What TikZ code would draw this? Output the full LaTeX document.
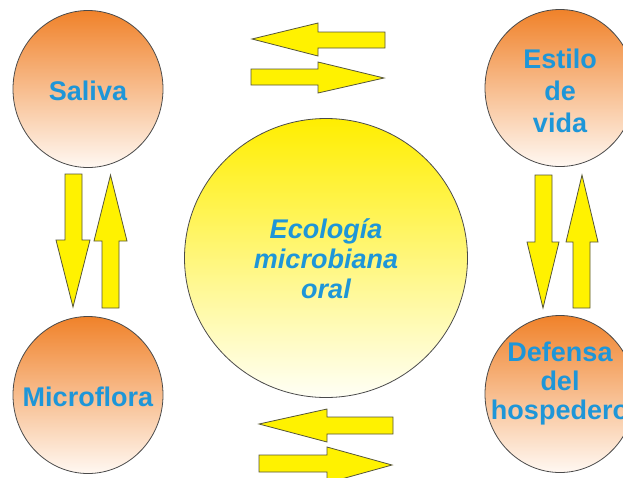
\documentclass[tikz,border=0pt]{standalone}
\usepackage{fontspec}
\setmainfont{Liberation Sans}
\usetikzlibrary{shapes.geometric,shadings}
\definecolor{orangetop}{HTML}{F0822A}
\definecolor{orangemid}{HTML}{F6A868}
\definecolor{orangebot}{HTML}{FFF8F2}
\definecolor{yelltop}{HTML}{FFEE00}
\definecolor{yellmid}{HTML}{FFF35A}
\definecolor{yellbot}{HTML}{FFFFF6}
\definecolor{arrowfill}{HTML}{FFF200}
\definecolor{arrowline}{HTML}{55553A}
\definecolor{txtblue}{HTML}{1E96D8}
\definecolor{rimline}{HTML}{4A4A4A}
\tikzset{
  bubble/.style={ellipse, draw=rimline, line width=0.8pt, minimum width=150pt, minimum height=157pt, inner sep=0pt, top color=orangetop, middle color=orangemid, bottom color=orangebot},
  bigbubble/.style={ellipse, draw=rimline, line width=0.8pt, minimum width=283pt, minimum height=279pt, inner sep=0pt, top color=yelltop, middle color=yellmid, bottom color=yellbot},
  lbl/.style={text=txtblue, font=\fontsize{27}{30}\selectfont\bfseries, align=center, inner sep=0pt},
  biglbl/.style={text=txtblue, font=\fontsize{27}{30}\selectfont\bfseries\itshape, align=center, inner sep=0pt},
  blockarrow/.style={draw=arrowline, fill=arrowfill, line width=0.8pt, line join=miter}
}
\begin{document}
\begin{tikzpicture}[x=1pt,y=-1pt]
\clip (0,0) rectangle (623,477);
\fill[white] (0,0) rectangle (623,477);
% bubbles
\node[bubble] (saliva) at (88,89) {};
\node[bubble] (micro) at (88,395) {};
\node[bubble] (estilo) at (560,88) {};
\node[bubble] (defensa) at (560,394) {};
\node[bigbubble] (eco) at (326,258) {};
% labels
\node[lbl] (tsaliva) at ([yshift=-2pt]saliva.center) {Saliva};
\node[lbl] (tmicro) at ([yshift=-2pt]micro.center) {Microflora};
\node[lbl, font=\fontsize{27}{32}\selectfont\bfseries] (testilo) at ([yshift=-3pt]estilo.center) {Estilo\\de\\vida};
\node[lbl, font=\fontsize{27}{29}\selectfont\bfseries] (tdefensa) at ([yshift=10pt]defensa.center) {Defensa\\del\\hospedero};
\node[biglbl] (teco) at ([yshift=-1pt]eco.center) {Ecología\\microbiana\\oral};
% top horizontal arrows
\draw[blockarrow] (252,39) -- (318,23) -- (318,32) -- (385,32) -- (385,48) -- (318,48) -- (318,56) -- cycle;
\draw[blockarrow] (384,78) -- (318,62) -- (318,69) -- (251,69) -- (251,85) -- (318,85) -- (318,93) -- cycle;
% bottom horizontal arrows
\draw[blockarrow] (259,424) -- (327,409) -- (327,417) -- (393,417) -- (393,434) -- (327,434) -- (327,442) -- cycle;
\draw[blockarrow] (392,465) -- (327,447) -- (327,455) -- (259,455) -- (259,472) -- (327,472) -- (327,483) -- cycle;
% left vertical arrows
\draw[blockarrow] (73,307) -- (56,240) -- (65,240) -- (65,174) -- (82,174) -- (82,240) -- (90,240) -- cycle;
\draw[blockarrow] (110.5,175) -- (94,241) -- (102,241) -- (102,308) -- (119,308) -- (119,241) -- (127,241) -- cycle;
% right vertical arrows
\draw[blockarrow] (543,308) -- (527,242) -- (535,242) -- (535,175) -- (552,175) -- (552,242) -- (559,242) -- cycle;
\draw[blockarrow] (582,175) -- (566,242) -- (573,242) -- (573,308) -- (590,308) -- (590,242) -- (598,242) -- cycle;
\end{tikzpicture}
\end{document}
